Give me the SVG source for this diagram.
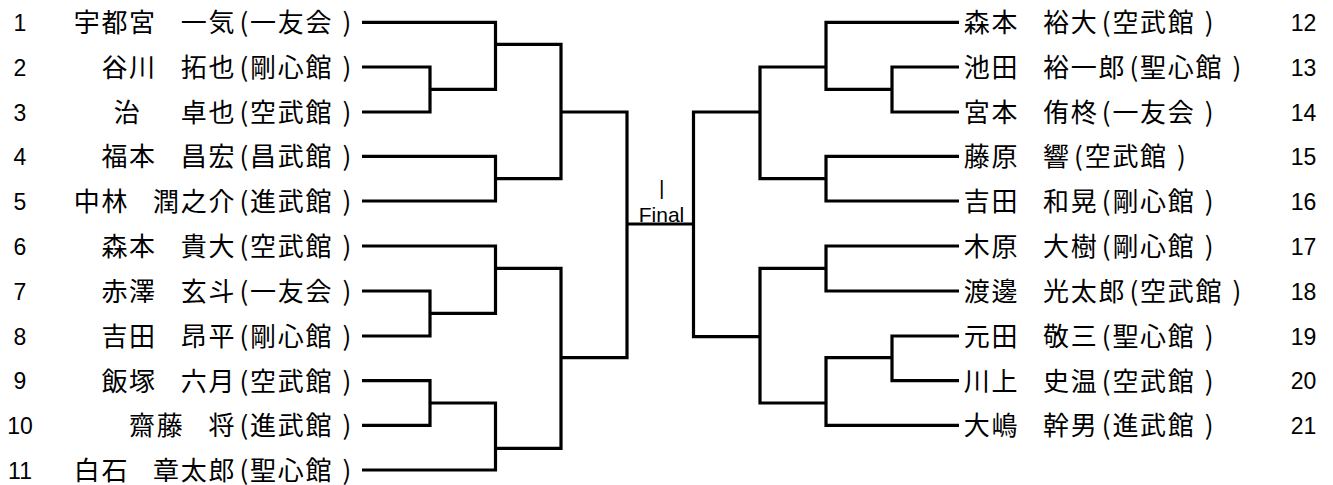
<svg xmlns="http://www.w3.org/2000/svg" width="1333" height="485" viewBox="0 0 1333 485">
<style>
.name{font-family:"Noto Sans CJK JP","Noto Sans CJK SC",sans-serif;font-size:26px;fill:#000}
.num{font-family:"Liberation Sans",Arial,sans-serif;font-size:23px;fill:#000;text-anchor:middle}
.br{fill:none;stroke:#000;stroke-width:3.2;stroke-linejoin:miter}
.lbl{font-family:"Liberation Sans",Arial,sans-serif;font-size:21px;fill:#000;text-anchor:middle}
</style>
<rect width="1333" height="485" fill="#fff"/>
<g id="connectors">
<path class="br" d="M362 22.3H495.5V89.3H430"/>
<path class="br" d="M362 67H430V112H362"/>
<path class="br" d="M495.5 44.3H561V178.7H495.5"/>
<path class="br" d="M362 156.3H495.5V201H362"/>
<path class="br" d="M561 112H627V357.7H561"/>
<path class="br" d="M362 246H495.5V313.3H430"/>
<path class="br" d="M362 291H430V336H362"/>
<path class="br" d="M495.5 268.3H561V448.3H495.5"/>
<path class="br" d="M362 380.7H430V425.3H362"/>
<path class="br" d="M430 403H495.5V470H362"/>
<path class="br" d="M627 224H695"/>
<path class="br" d="M959 22.3H826V89.3H892"/>
<path class="br" d="M959 67H892V112H959"/>
<path class="br" d="M826 67H760V178.7H826"/>
<path class="br" d="M959 156.3H826V201H959"/>
<path class="br" d="M760 112H693.5V336.7H760"/>
<path class="br" d="M959 246H826V291H959"/>
<path class="br" d="M826 268.3H760V403H826"/>
<path class="br" d="M959 336H892V380.7H959"/>
<path class="br" d="M892 357.7H826V425.3H959"/>
</g>
<g id="final">
<text class="lbl" x="661.7" y="195">|</text>
<text class="lbl" x="661.5" y="221.8">Final</text>
</g>
<g id="p1"><text class="num" x="20" y="30.8">1</text><text class="name" x="73.7 101.4 129.1 156.8 180.8 208.5 239.5 250.1 277.8 305.5 342.5" y="32.1">宇都宮　一気(一友会)</text></g>
<g id="p2"><text class="num" x="20" y="75.5">2</text><text class="name" x="101.4 129.1 156.8 180.8 208.5 239.5 250.1 277.8 305.5 342.5" y="76.8">谷川　拓也(剛心館)</text></g>
<g id="p3"><text class="num" x="20" y="120.5">3</text><text class="name" x="113.7 141.4 160 180.8 208.5 239.5 250.1 277.8 305.5 342.5" y="121.8">治　　卓也(空武館)</text></g>
<g id="p4"><text class="num" x="20" y="164.8">4</text><text class="name" x="101.4 129.1 156.8 180.8 208.5 239.5 250.1 277.8 305.5 342.5" y="166.1">福本　昌宏(昌武館)</text></g>
<g id="p5"><text class="num" x="20" y="209.5">5</text><text class="name" x="73.7 101.4 129.1 153.1 180.8 208.5 239.5 250.1 277.8 305.5 342.5" y="210.8">中林　潤之介(進武館)</text></g>
<g id="p6"><text class="num" x="20" y="254.5">6</text><text class="name" x="101.4 129.1 156.8 180.8 208.5 239.5 250.1 277.8 305.5 342.5" y="255.8">森本　貴大(空武館)</text></g>
<g id="p7"><text class="num" x="20" y="299.5">7</text><text class="name" x="101.4 129.1 156.8 180.8 208.5 239.5 250.1 277.8 305.5 342.5" y="300.8">赤澤　玄斗(一友会)</text></g>
<g id="p8"><text class="num" x="20" y="344.5">8</text><text class="name" x="101.4 129.1 156.8 180.8 208.5 239.5 250.1 277.8 305.5 342.5" y="345.8">吉田　昂平(剛心館)</text></g>
<g id="p9"><text class="num" x="20" y="389.2">9</text><text class="name" x="101.4 129.1 156.8 180.8 208.5 239.5 250.1 277.8 305.5 342.5" y="390.5">飯塚　六月(空武館)</text></g>
<g id="p10"><text class="num" x="20" y="433.8">10</text><text class="name" x="129.1 156.8 184.5 208.5 239.5 250.1 277.8 305.5 342.5" y="435.1">齋藤　将(進武館)</text></g>
<g id="p11"><text class="num" x="20" y="478.5">11</text><text class="name" x="73.7 101.4 129.1 153.1 180.8 208.5 239.5 250.1 277.8 305.5 342.5" y="479.8">白石　章太郎(聖心館)</text></g>
<g id="p12"><text class="name" x="963.7 991.4 1019.1 1043.1 1070.8 1101.8 1112.4 1140.1 1167.8 1204.8" y="32.1">森本　裕大(空武館)</text><text class="num" x="1303.5" y="30.8">12</text></g>
<g id="p13"><text class="name" x="963.7 991.4 1019.1 1043.1 1070.8 1098.5 1129.5 1140.1 1167.8 1195.5 1232.5" y="76.8">池田　裕一郎(聖心館)</text><text class="num" x="1303.5" y="75.5">13</text></g>
<g id="p14"><text class="name" x="963.7 991.4 1019.1 1043.1 1070.8 1101.8 1112.4 1140.1 1167.8 1204.8" y="121.8">宮本　侑柊(一友会)</text><text class="num" x="1303.5" y="120.5">14</text></g>
<g id="p15"><text class="name" x="963.7 991.4 1019.1 1043.1 1074.1 1084.7 1112.4 1140.1 1177.1" y="166.1">藤原　響(空武館)</text><text class="num" x="1303.5" y="164.8">15</text></g>
<g id="p16"><text class="name" x="963.7 991.4 1019.1 1043.1 1070.8 1101.8 1112.4 1140.1 1167.8 1204.8" y="210.8">吉田　和晃(剛心館)</text><text class="num" x="1303.5" y="209.5">16</text></g>
<g id="p17"><text class="name" x="963.7 991.4 1019.1 1043.1 1070.8 1101.8 1112.4 1140.1 1167.8 1204.8" y="255.8">木原　大樹(剛心館)</text><text class="num" x="1303.5" y="254.5">17</text></g>
<g id="p18"><text class="name" x="963.7 991.4 1019.1 1043.1 1070.8 1098.5 1129.5 1140.1 1167.8 1195.5 1232.5" y="300.8">渡邊　光太郎(空武館)</text><text class="num" x="1303.5" y="299.5">18</text></g>
<g id="p19"><text class="name" x="963.7 991.4 1019.1 1043.1 1070.8 1101.8 1112.4 1140.1 1167.8 1204.8" y="345.8">元田　敬三(聖心館)</text><text class="num" x="1303.5" y="344.5">19</text></g>
<g id="p20"><text class="name" x="963.7 991.4 1019.1 1043.1 1070.8 1101.8 1112.4 1140.1 1167.8 1204.8" y="390.5">川上　史温(空武館)</text><text class="num" x="1303.5" y="389.2">20</text></g>
<g id="p21"><text class="name" x="963.7 991.4 1019.1 1043.1 1070.8 1101.8 1112.4 1140.1 1167.8 1204.8" y="435.1">大嶋　幹男(進武館)</text><text class="num" x="1303.5" y="433.8">21</text></g>
</svg>
